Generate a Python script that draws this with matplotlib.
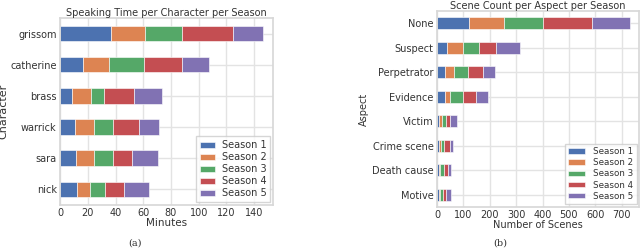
import pandas as pd
import matplotlib.pyplot as plt
import seaborn as sns

# speaking time (minutes) per character, seasons 1-5
characters = ['nick', 'sara', 'warrick', 'brass', 'catherine', 'grissom']
time_s1 = [11.8, 11.3, 10.8, 8.4, 16.6, 36.4]
time_s2 = [9.4, 12.8, 13.7, 13.5, 18.3, 24.7]
time_s3 = [11.3, 13.9, 13.7, 9.8, 25.7, 27.2]
time_s4 = [13.7, 13.5, 18.8, 21.3, 27.7, 36.5]
time_s5 = [18.0, 19.0, 14.7, 20.6, 19.2, 21.7]

# scene counts per aspect, seasons 1-5
aspects = ['Motive', 'Death cause', 'Crime scene', 'Victim',
           'Evidence', 'Perpetrator', 'Suspect', 'None']
scenes_s1 = [8, 6, 6, 8, 31, 31, 39, 122]
scenes_s2 = [4, 5, 9, 12, 19, 34, 59, 131]
scenes_s3 = [10, 15, 13, 13, 48, 54, 62, 150]
scenes_s4 = [13, 14, 20, 17, 49, 54, 64, 183]
scenes_s5 = [16, 11, 13, 25, 45, 48, 91, 145]

seasons = ['Season 1', 'Season 2', 'Season 3', 'Season 4', 'Season 5']

df_time = pd.DataFrame(dict(zip(seasons, [time_s1, time_s2, time_s3, time_s4, time_s5])),
                       index=characters)
df_scenes = pd.DataFrame(dict(zip(seasons, [scenes_s1, scenes_s2, scenes_s3, scenes_s4, scenes_s5])),
                         index=aspects)

sns.set_theme(style='whitegrid', palette='deep')
plt.rcParams['font.family'] = ['DejaVu Sans']
plt.rcParams['grid.color'] = '#e3e3e3'
plt.rcParams['axes.edgecolor'] = '#d8d8d8'
plt.rcParams['text.color'] = '#333333'
plt.rcParams['xtick.color'] = '#333333'
plt.rcParams['ytick.color'] = '#333333'
plt.rcParams['axes.labelcolor'] = '#333333'

fig = plt.figure(figsize=(6.4, 2.49), dpi=100)
ax1 = fig.add_axes([0.094, 0.177, 0.333, 0.751])
ax2 = fig.add_axes([0.683, 0.169, 0.316, 0.787])

df_time.plot(kind='barh', stacked=True, ax=ax1, edgecolor='white', linewidth=0.4)
ax1.set_title('Speaking Time per Character per Season', fontsize=7, pad=1.5)
ax1.set_xlabel('Minutes', fontsize=7.5, labelpad=0)
ax1.set_ylabel('Character', fontsize=8, labelpad=1)
ax1.set_xticks(range(0, 141, 20))
ax1.tick_params(labelsize=7, length=0, pad=2.5)
ax1.legend(loc='lower right', fontsize=7, handlelength=1.5, handleheight=0.6,
           labelspacing=0.2, handletextpad=0.7, borderpad=0.4, borderaxespad=0.3,
           fancybox=False)

df_scenes.plot(kind='barh', stacked=True, ax=ax2, edgecolor='white', linewidth=0.4)
ax2.set_title('Scene Count per Aspect per Season', fontsize=7, pad=1.5)
ax2.set_xlabel('Number of Scenes', fontsize=7, labelpad=0)
ax2.set_ylabel('Aspect', fontsize=7, labelpad=2)
ax2.set_xticks(range(0, 701, 100))
ax2.tick_params(labelsize=7, length=0, pad=2.5)
ax2.legend(loc='lower right', fontsize=6.3, handlelength=1.9, handleheight=0.6,
           labelspacing=0.25, handletextpad=0.9, borderpad=0.4, borderaxespad=0.3,
           fancybox=False)

fig.text(0.211, 0.015, '(a)', fontsize=7, family='DejaVu Serif', ha='center')
fig.text(0.781, 0.015, '(b)', fontsize=7, family='DejaVu Serif', ha='center')

fig.savefig('out.png', dpi=100)
